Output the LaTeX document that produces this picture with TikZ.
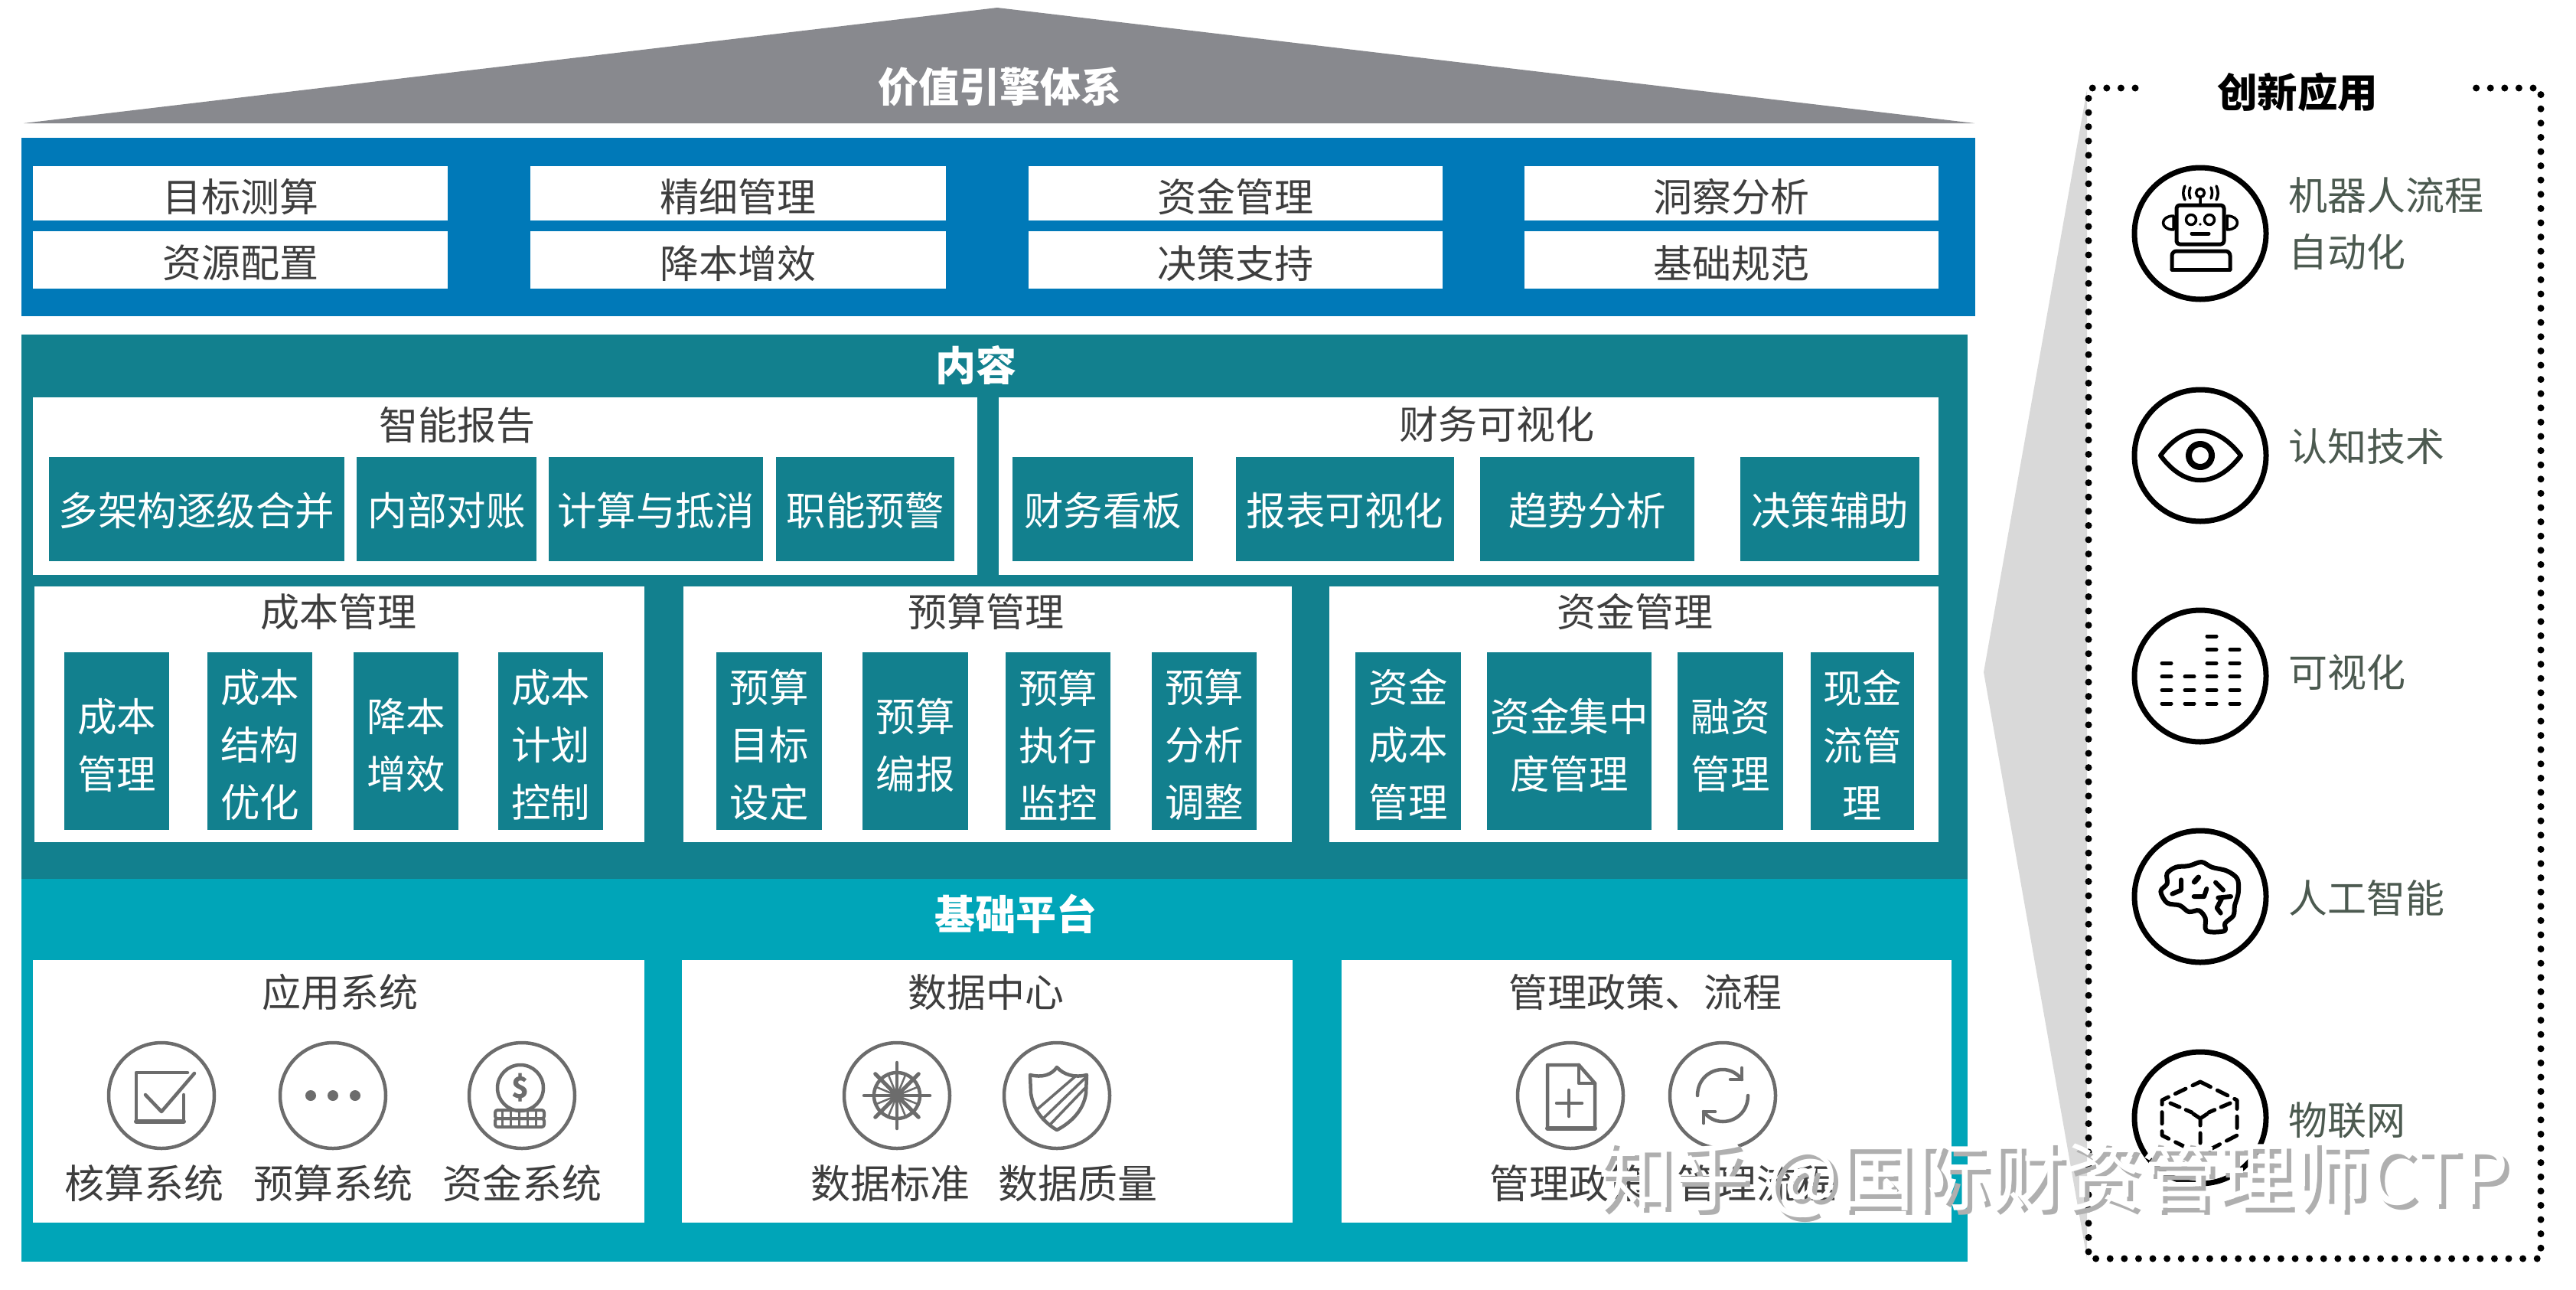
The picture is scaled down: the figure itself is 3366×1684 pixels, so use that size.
\documentclass[tikz,border=0pt]{standalone}
\usepackage{fontspec}
\setmainfont{Noto Sans CJK SC}
\usetikzlibrary{arrows.meta}
\definecolor{cblue}{HTML}{0079B8}
\definecolor{cteal}{HTML}{12808E}
\definecolor{cbase}{HTML}{00A5B8}
\definecolor{croof}{HTML}{88898E}
\definecolor{ctext}{HTML}{3E3E3E}
\definecolor{cside}{HTML}{4C5A50}
\definecolor{cicon}{HTML}{6C6C6C}
\definecolor{cwedge}{HTML}{D9D9D9}
\definecolor{cmark}{HTML}{AFAFAF}
\tikzset{
  x=1pt,y=-1pt,
  whitebox/.style={fill=white,inner sep=0pt,text=ctext,font=\fontsize{51}{60}\selectfont},
  tealbox/.style={fill=cteal,inner sep=0pt,text=white,align=center,font=\fontsize{51.5}{75}\selectfont},
  bandbox/.style={inner sep=0pt},
  heading/.style={inner sep=0pt,text=ctext,font=\fontsize{51}{60}\selectfont},
  bandtitle/.style={inner sep=0pt,text=white,font=\fontsize{53}{60}\selectfont\bfseries},
  sidelabel/.style={inner sep=0pt,anchor=west,text=cside,font=\fontsize{51}{60}\selectfont},
  iconlabel/.style={inner sep=0pt,text=ctext,font=\fontsize{52}{60}\selectfont},
  smallring/.style={circle,draw=cicon,line width=4.5pt,minimum size=138pt,inner sep=0pt},
  bigring/.style={circle,draw=black,line width=7pt,minimum size=172pt,inner sep=0pt},
  smallicon/.style={draw=cicon,line width=4.5pt,line cap=round,line join=round},
  bigicon/.style={draw=black,line width=5pt,line cap=round,line join=round},
  dotborder/.style={draw=black,line width=9pt,line cap=round,dash pattern=on 0pt off 18.6pt},
  markfont/.style={inner sep=0pt,anchor=west,font=\fontsize{99}{110}\selectfont},
}
% box node, then its text node lowered by #8 px
\newcommand{\bx}[8]{%
  \pgfmathsetmacro\bxw{#4-#2}\pgfmathsetmacro\bxh{#5-#3}%
  \node[#6,minimum width=\bxw pt,minimum height=\bxh pt,anchor=north west] (#1) at (#2,#3) {};%
  \node[#6,fill=none] (#1t) at ([yshift=-#8pt]#1.center) {#7};}
\begin{document}
\begin{tikzpicture}
\useasboundingbox (0,0) rectangle (3366,1684);
\fill[white] (0,0) rectangle (3366,1684);
% roof
\coordinate (roofL) at (31,161); \coordinate (roofA) at (1303,10); \coordinate (roofR) at (2580,161);
\fill[croof] (roofL) -- (roofA) -- (roofR) -- cycle;
\node[bandtitle] (roofT) at (1306,113) {价值引擎体系};
% blue band
\bx{blue}{28}{180}{2581}{413}{bandbox,fill=cblue}{}{0}
\bx{b1}{43}{217}{585}{288}{whitebox}{目标测算}{4}
\bx{b2}{693}{217}{1236}{288}{whitebox}{精细管理}{4}
\bx{b3}{1344}{217}{1885}{288}{whitebox}{资金管理}{4}
\bx{b4}{1992}{217}{2533}{288}{whitebox}{洞察分析}{4}
\bx{b5}{43}{302}{585}{377}{whitebox}{资源配置}{4}
\bx{b6}{693}{302}{1236}{377}{whitebox}{降本增效}{4}
\bx{b7}{1344}{302}{1885}{377}{whitebox}{决策支持}{4}
\bx{b8}{1992}{302}{2533}{377}{whitebox}{基础规范}{4}
% content band
\bx{content}{28}{437}{2571}{1148}{bandbox,fill=cteal}{}{0}
\node[bandtitle] (contentT) at (1275,477) {内容};
\bx{zn}{43}{519}{1277}{751}{whitebox}{}{0}
\node[heading] (znT) at (597,555) {智能报告};
\bx{zn1}{64}{597}{450}{733}{tealbox}{多架构逐级合并}{2}
\bx{zn2}{466}{597}{701}{733}{tealbox}{内部对账}{2}
\bx{zn3}{717}{597}{997}{733}{tealbox}{计算与抵消}{2}
\bx{zn4}{1014}{597}{1247}{733}{tealbox}{职能预警}{2}
\bx{cw}{1305}{519}{2533}{751}{whitebox}{}{0}
\node[heading] (cwT) at (1956,554) {财务可视化};
\bx{cw1}{1323}{597}{1559}{733}{tealbox}{财务看板}{2}
\bx{cw2}{1615}{597}{1900}{733}{tealbox}{报表可视化}{2}
\bx{cw3}{1934}{597}{2214}{733}{tealbox}{趋势分析}{2}
\bx{cw4}{2274}{597}{2508}{733}{tealbox}{决策辅助}{2}
% second row
\bx{cb}{45}{766}{842}{1100}{whitebox}{}{0}
\node[heading] (cbT) at (442,799) {成本管理};
\bx{cb1}{84}{852}{221}{1084}{tealbox}{成本\\管理}{5}
\bx{cb2}{271}{852}{408}{1084}{tealbox}{成本\\结构\\优化}{5}
\bx{cb3}{462}{852}{599}{1084}{tealbox}{降本\\增效}{5}
\bx{cb4}{651}{852}{788}{1084}{tealbox}{成本\\计划\\控制}{5}
\bx{ys}{893}{766}{1688}{1100}{whitebox}{}{0}
\node[heading] (ysT) at (1288,799) {预算管理};
\bx{ys1}{936}{852}{1074}{1084}{tealbox}{预算\\目标\\设定}{5}
\bx{ys2}{1127}{852}{1265}{1084}{tealbox}{预算\\编报}{5}
\bx{ys3}{1314}{852}{1451}{1084}{tealbox}{预算\\执行\\监控}{5}
\bx{ys4}{1505}{852}{1642}{1084}{tealbox}{预算\\分析\\调整}{5}
\bx{zj}{1737}{766}{2533}{1100}{whitebox}{}{0}
\node[heading] (zjT) at (2136,799) {资金管理};
\bx{zj1}{1771}{852}{1909}{1084}{tealbox}{资金\\成本\\管理}{5}
\bx{zj2}{1943}{852}{2158}{1084}{tealbox}{资金集中\\度管理}{5}
\bx{zj3}{2192}{852}{2330}{1084}{tealbox}{融资\\管理}{5}
\bx{zj4}{2366}{852}{2501}{1084}{tealbox}{现金\\流管\\理}{5}
% base band
\bx{base}{28}{1148}{2571}{1648}{bandbox,fill=cbase}{}{0}
\node[bandtitle] (baseT) at (1327,1194) {基础平台};
\bx{p1}{43}{1254}{842}{1597}{whitebox}{}{0}
\node[heading] (p1T) at (444,1296) {应用系统};
\bx{p2}{891}{1254}{1689}{1597}{whitebox}{}{0}
\node[heading] (p2T) at (1288,1296) {数据中心};
\bx{p3}{1753}{1254}{2550}{1597}{whitebox}{}{0}
\node[heading] (p3T) at (2150,1296) {管理政策、流程};
% small rings
\node[smallring] (i1) at (211,1431) {};
\node[smallring] (i2) at (435,1431) {};
\node[smallring] (i3) at (682,1431) {};
\node[smallring] (i4) at (1172,1431) {};
\node[smallring] (i5) at (1381,1431) {};
\node[smallring] (i6) at (2052,1431) {};
\node[smallring] (i7) at (2251,1431) {};
\node[iconlabel] (l1) at (188,1546) {核算系统};
\node[iconlabel] (l2) at (435,1546) {预算系统};
\node[iconlabel] (l3) at (682,1546) {资金系统};
\node[iconlabel] (l4) at (1163,1546) {数据标准};
\node[iconlabel] (l5) at (1408,1546) {数据质量};
\node[iconlabel] (l6) at (2050,1546) {管理政策};
\node[iconlabel] (l7) at (2295,1546) {管理流程};
% check icon
\draw[smallicon] (245,1401) -- (178,1401) -- (178,1465) -- (240,1465) -- (240,1430);
\draw[smallicon,line width=6pt] (178,1465) -- (240,1465);
\draw[smallicon] (190,1430) -- (211,1452) -- (254,1402);
% dots
\fill[cicon] (406,1431) circle (7) (435,1431) circle (7) (464,1431) circle (7);
% coin
\draw[smallicon] (680,1421) circle (30);
\node[inner sep=0pt,text=cicon,font=\fontsize{38}{38}\selectfont\bfseries] (coinS) at (680,1421) {\$};
\draw[smallicon,line width=4pt,rounded corners=3pt] (647,1450) rectangle (711,1461);
\draw[smallicon,line width=4pt,rounded corners=3pt] (647,1461) rectangle (711,1472);
\foreach \u in {656,667,678,689,700}{\draw[smallicon,line width=3pt] (\u,1450) -- (\u,1472);}
% wheel
\draw[smallicon] (1172,1431) circle (30);
\foreach \a in {45,135}{\draw[smallicon,line width=5pt] ([shift={(\a:40)}]1172,1431) -- ([shift={(\a+180:40)}]1172,1431);}
\draw[smallicon] (1129,1431) -- (1215,1431) (1172,1388) -- (1172,1474);
\foreach \a in {22.5,67.5,112.5,157.5}{\draw[smallicon,line width=2.5pt] ([shift={(\a:30)}]1172,1431) -- ([shift={(\a+180:30)}]1172,1431);}
% shield
\draw[smallicon] (1346,1404) .. controls (1362,1408) and (1374,1404) .. (1381,1394) .. controls (1390,1404) and (1404,1408) .. (1420,1404) -- (1419,1428) .. controls (1416,1450) and (1400,1466) .. (1381,1476) .. controls (1364,1466) and (1350,1450) .. (1347,1428) -- cycle;
\draw[smallicon,line width=3.5pt] (1418,1408) -- (1362,1462);
\draw[smallicon,line width=3.5pt] (1419,1420) -- (1372,1469);
\draw[smallicon,line width=3.5pt] (1405,1406) -- (1354,1450);
% doc
\draw[smallicon] (2022,1391) -- (2063,1391) -- (2084,1415) -- (2084,1474) -- (2022,1474) -- cycle;
\draw[smallicon] (2063,1391) -- (2063,1415) -- (2084,1415);
\draw[smallicon,line width=6pt] (2022,1474) -- (2084,1474);
\draw[smallicon] (2050,1424) -- (2050,1458) (2034,1441) -- (2067,1441);
% refresh
\draw[smallicon] (2218,1431) .. controls (2218,1410) and (2234,1397) .. (2251,1397) .. controls (2261,1397) and (2270,1402) .. (2276,1410);
\draw[smallicon] (2284,1431) .. controls (2284,1452) and (2268,1465) .. (2251,1465) .. controls (2241,1465) and (2232,1460) .. (2226,1452);
\draw[smallicon] (2276,1395) -- (2276,1410) -- (2261,1410);
\draw[smallicon] (2226,1467) -- (2226,1452) -- (2241,1452);
% side panel wedge
\coordinate (wT) at (2727,117); \coordinate (wM) at (2592,878); \coordinate (wB) at (2727,1644);
\fill[cwedge] (wT) -- (wM) -- (wB) -- cycle;
\coordinate (dA) at (2790,115); \coordinate (dB) at (2729,115); \coordinate (dC) at (2729,1644);
\coordinate (dD) at (3320,1644); \coordinate (dE) at (3320,115); \coordinate (dF) at (3222,115);
\draw[dotborder] (dA) -- (dB) -- (dC) -- (dD) -- (dE) -- (dF);
\node[inner sep=0pt,text=black,font=\fontsize{52.5}{60}\selectfont\bfseries] (sideT) at (3002,120) {创新应用};
% big rings
\node[bigring] (s1) at (2875,305) {};
\node[bigring] (s2) at (2875,595) {};
\node[bigring] (s3) at (2875,883) {};
\node[bigring] (s4) at (2875,1171) {};
\node[bigring] (s5) at (2875,1460) {};
\node[sidelabel] (t1a) at (2990,255) {机器人流程};
\node[sidelabel] (t1b) at (2990,329) {自动化};
\node[sidelabel] (t2) at (2990,583) {认知技术};
\node[sidelabel] (t3) at (2990,878) {可视化};
\node[sidelabel] (t4) at (2990,1173) {人工智能};
\node[sidelabel] (t5) at (2990,1463) {物联网};
% robot
\draw[bigicon,rounded corners=4pt] (2844,268) rectangle (2906,319);
\draw[bigicon,line width=3.5pt] (2863,287) circle (6.5) (2887,287) circle (6.5);
\fill[black] (2875,293) circle (1.8);
\draw[bigicon] (2864,305) -- (2886,305);
\draw[bigicon,line width=3.5pt] (2840,282) .. controls (2822,282) and (2822,300) .. (2840,300) -- cycle;
\draw[bigicon,line width=3.5pt] (2910,282) .. controls (2928,282) and (2928,300) .. (2910,300) -- cycle;
\draw[bigicon,rounded corners=6pt] (2838,352) -- (2838,328) -- (2914,328) -- (2914,352);
\draw[bigicon] (2838,352) -- (2914,352);
\draw[bigicon,line width=3.5pt] (2875,252) circle (5.5) (2875,258) -- (2875,268);
\draw[bigicon,line width=3.5pt] (2862,245) .. controls (2860,250) and (2860,254) .. (2862,259);
\draw[bigicon,line width=3.5pt] (2855,243) .. controls (2852,250) and (2852,255) .. (2855,261);
\draw[bigicon,line width=3.5pt] (2889,245) .. controls (2891,250) and (2891,254) .. (2889,259);
\draw[bigicon,line width=3.5pt] (2896,243) .. controls (2899,250) and (2899,255) .. (2896,261);
% eye
\draw[bigicon,line width=6pt] (2823,595) .. controls (2855,552) and (2895,552) .. (2928,595) .. controls (2895,638) and (2855,638) .. (2823,595) -- cycle;
\draw[bigicon,line width=8pt] (2875,595) circle (15);
% bars
\foreach \c/\n in {2831/4,2861/3,2890/6,2920/5}{
  \foreach \r in {1,...,\n}{
    \draw[black,line width=5pt,line cap=round] (\c-6,919-\r*17.6+17.6) -- (\c+6,919-\r*17.6+17.6);}}
% brain
\begin{scope}[shift={(2780,1076)},x=0.3333pt,y=-0.3333pt]
\draw[bigicon,line width=6pt] plot[smooth cycle,tension=0.55] coordinates {(130,265) (155,235) (155,195) (190,170) (240,165) (290,150) (330,170) (390,185) (430,215) (435,260) (430,290) (420,320) (415,360) (382,390) (380,420) (310,420) (305,370) (280,340) (240,345) (205,320) (155,310)};
\draw[bigicon,line width=6pt] (175,275) -- (210,260) -- (210,220);
\draw[bigicon,line width=7pt] (262,228) -- (278,210);
\draw[bigicon,line width=6pt] (260,285) -- (300,285) -- (310,255);
\draw[bigicon,line width=6pt] (345,230) -- (375,260);
\draw[bigicon,line width=6pt] (355,290) -- (405,285) (372,288) -- (350,330) -- (365,350);
\end{scope}
% cube
\draw[bigicon,line width=5pt,dash pattern=on 15pt off 10pt] (2875,1413) -- (2923,1437) -- (2923,1483) -- (2875,1508) -- (2825,1483) -- (2825,1437) -- cycle;
\draw[bigicon,line width=5pt,dash pattern=on 13pt off 9pt] (2836,1441) -- (2864,1453);
\draw[bigicon,line width=5pt,dash pattern=on 13pt off 9pt] (2914,1441) -- (2886,1453);
\draw[bigicon,line width=5pt] (2866,1455) -- (2875,1461) -- (2884,1455) (2875,1461) -- (2875,1470) (2875,1480) -- (2875,1493);
% watermark
\node[markfont,text=cmark] (wm0) at (2094,1546) {知乎 @国际财资管理师CTP};
\node[markfont,text=white] (wm) at (2088,1540) {知乎 @国际财资管理师CTP};
\end{tikzpicture}
\end{document}
